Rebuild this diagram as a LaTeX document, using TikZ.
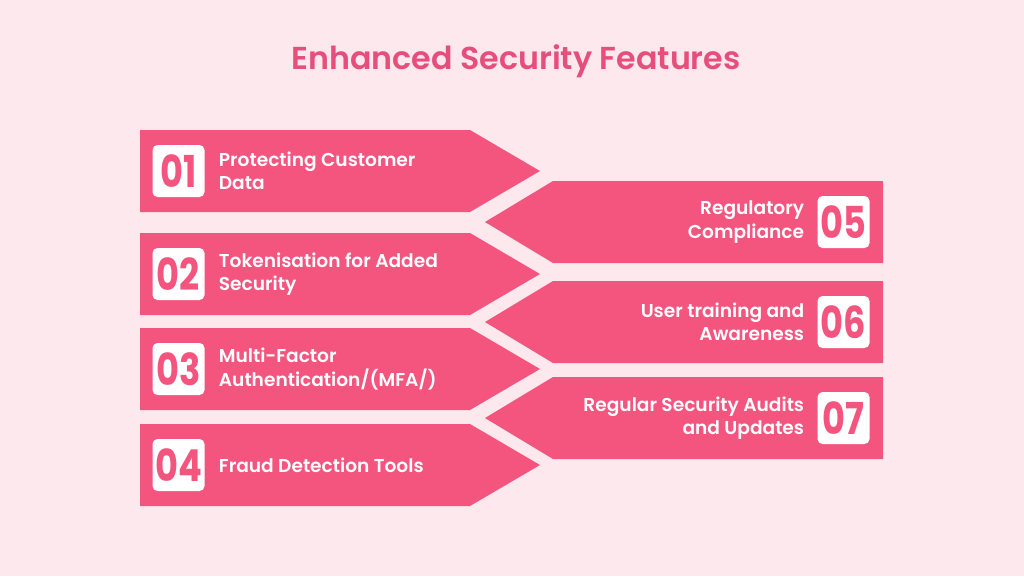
\documentclass[tikz,border=0pt]{standalone}
\usepackage{fontspec}
\setmainfont{Poppins}[UprightFont=* SemiBold, BoldFont=* Bold]
\usetikzlibrary{positioning}

\definecolor{bgpink}{HTML}{FDE8EE}
\definecolor{barpink}{HTML}{F4557F}
\definecolor{titlepink}{HTML}{E64F7C}

\tikzset{
  numbox/.style={fill=white, rounded corners=5pt, minimum size=52pt, inner sep=0pt,
    text=barpink, font=\fontsize{44}{44}\selectfont\bfseries},
  lefttext/.style={right=14pt of #1, align=left, text=white, inner sep=0pt,
    font=\fontsize{18.6}{23.5}\selectfont},
  righttext/.style={left=13pt of #1, align=right, text=white, inner sep=0pt,
    font=\fontsize{18.6}{23.5}\selectfont}
}

\begin{document}
\begin{tikzpicture}[x=1pt, y=-1pt]

% Fondo
\fill[bgpink] (0,0) rectangle (1024,576);
\useasboundingbox (0,0) rectangle (1024,576);

% Titulo
\node[anchor=base, text=titlepink, font=\fontsize{31.7}{32}\selectfont] (title) at (516,69)
  {Enhanced Security Features};

% Flechas izquierda
\foreach \n/\t/\txt in {1/130/{Protecting Customer\\Data},
                        2/233/{Tokenisation for Added\\Security},
                        3/328/{Multi-Factor\\Authentication/(MFA/)},
                        4/424/{Fraud Detection Tools}} {
  \fill[barpink] (140,\t) -- (470,\t) -- (540,\t+41) -- (470,\t+82) -- (140,\t+82) -- cycle;
  \node[numbox] (num\n) at (178.5,\t+41) {\scalebox{0.8}[1]{0\n}};
  \node[lefttext=num\n] (lbl\n) {\txt};
}

% Flechas derecha
\foreach \n/\t/\txt in {5/181/{Regulatory\\Compliance},
                        6/281/{User training and\\Awareness},
                        7/377/{Regular Security Audits\\and Updates}} {
  \fill[barpink] (553,\t) -- (883,\t) -- (883,\t+82) -- (553,\t+82) -- (485,\t+41) -- cycle;
  \node[numbox] (num\n) at (843.5,\t+41) {\scalebox{0.8}[1]{0\n}};
  \node[righttext=num\n] (lbl\n) {\txt};
}

\end{tikzpicture}
\end{document}
